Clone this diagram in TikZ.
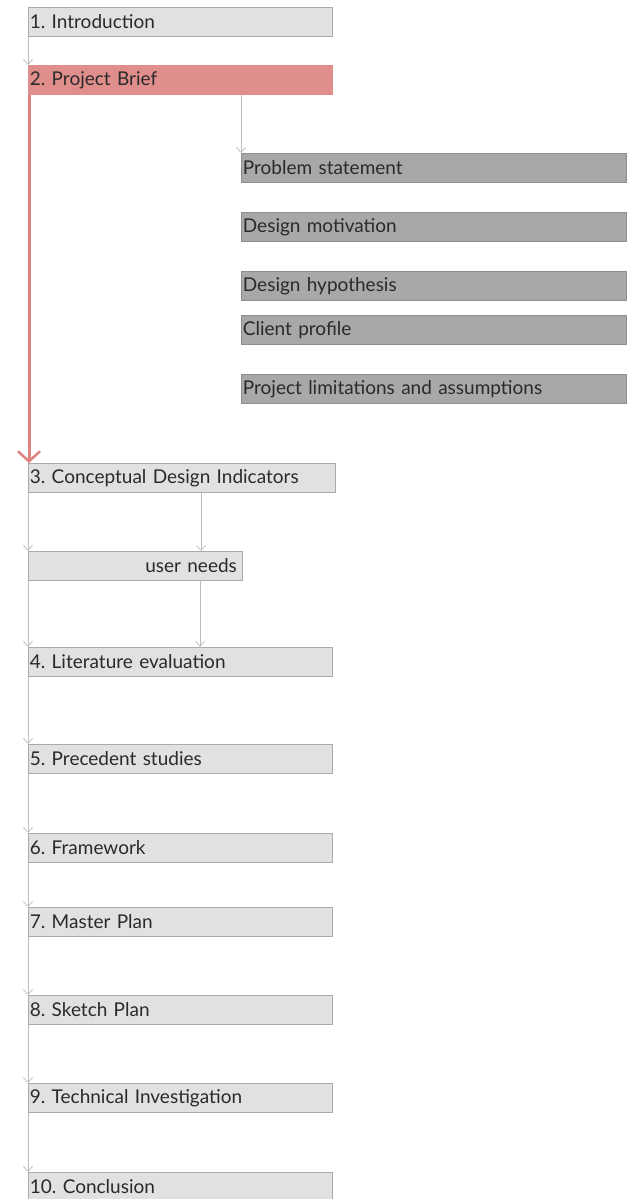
\documentclass[tikz,border=0pt]{standalone}
\usepackage{fontspec}
\setmainfont{Lato}
\usetikzlibrary{arrows.meta,calc}
\frenchspacing
\definecolor{lightbox}{HTML}{E1E1DF}
\definecolor{lightedge}{HTML}{ABABAB}
\definecolor{redbox}{HTML}{E08E8C}
\definecolor{redline}{HTML}{E0827F}
\definecolor{darkbox}{HTML}{A8A8A8}
\definecolor{darkedge}{HTML}{8E8E8E}
\definecolor{txt}{HTML}{2A2A2A}
\definecolor{arrowgray}{HTML}{BDBDBD}
\tikzset{
  x=1pt, y=1pt,
  basebox/.style={anchor=north west, draw, line width=0.8pt, inner xsep=1.5pt, inner ysep=0pt,
    minimum height=29pt, text=txt, font=\fontsize{19}{21}\selectfont\frenchspacing, align=left},
  lbox/.style={basebox, fill=lightbox, draw=lightedge, text width=301pt},
  rbox/.style={basebox, fill=redbox, draw=redbox, text width=301pt},
  dbox/.style={basebox, fill=darkbox, draw=darkedge, text width=382pt},
  garrow/.style={draw=arrowgray, line width=0.8pt, -{Straight Barb[length=5pt,width=9pt]}},
  redarrow/.style={draw=redline, line width=3pt, -{Straight Barb[length=10pt,width=22pt,line width=2.5pt]}}
}
\begin{document}
\begin{tikzpicture}
\useasboundingbox (0,0) rectangle (634,-1199);
\node[lbox] (n1) at (28,-7) {1. Introduction};
\node[rbox] (n2) at (28,-65) {2. Project Brief};
\node[dbox] (p1) at (241,-153) {Problem statement};
\node[dbox] (p2) at (241,-212) {Design motivation};
\node[dbox] (p3) at (241,-271) {Design hypothesis};
\node[dbox] (p4) at (241,-315) {Client profile};
\node[dbox] (p5) at (241,-374) {Project limitations and assumptions};
\node[lbox, text width=304pt] (n3) at (28,-463) {3. Conceptual Design Indicators};
\node[basebox, fill=lightbox, draw=lightedge, text width=211pt, align=right] (un) at (28,-551) {user needs\hspace*{4pt}};
\node[lbox] (n4) at (28,-647) {4. Literature evaluation};
\node[lbox] (n5) at (28,-744) {5. Precedent studies};
\node[lbox] (n6) at (28,-833) {6. Framework};
\node[lbox] (n7) at (28,-907) {7. Master Plan};
\node[lbox] (n8) at (28,-995) {8. Sketch Plan};
\node[lbox] (n9) at (28,-1083) {9. Technical Investigation};
\node[lbox] (n10) at (28,-1172) {10. Conclusion};

\draw[garrow] (n1.south west) -- (n2.north west);
\draw[redarrow] ([xshift=1pt]n2.south west) -- ([xshift=1pt]n3.north west);
\draw[garrow] (n2.south -| p1.west) -- (p1.north west);
\draw[garrow] (n3.south west) -- (un.north west);
\draw[garrow] ([xshift=173pt]n3.south west) -- ([xshift=173pt]un.north west);
\draw[garrow] (un.south west) -- (n4.north west);
\draw[garrow] ([xshift=172pt]un.south west) -- ([xshift=172pt]n4.north west);
\draw[garrow] (n4.south west) -- (n5.north west);
\draw[garrow] (n5.south west) -- (n6.north west);
\draw[garrow] (n6.south west) -- (n7.north west);
\draw[garrow] (n7.south west) -- (n8.north west);
\draw[garrow] (n8.south west) -- (n9.north west);
\draw[garrow] (n9.south west) -- (n10.north west);
\end{tikzpicture}
\end{document}
